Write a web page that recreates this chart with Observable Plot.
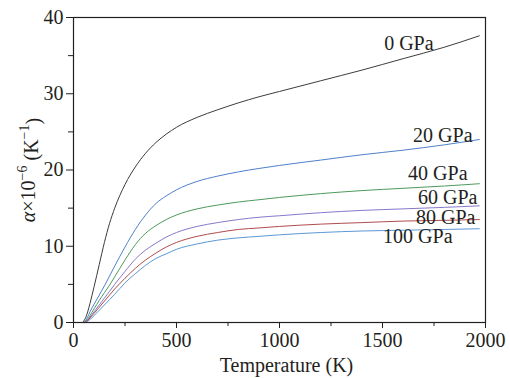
<!DOCTYPE html>
<html>
<head>
<meta charset="utf-8">
<script src="https://cdn.jsdelivr.net/npm/d3@7"></script>
<script src="https://cdn.jsdelivr.net/npm/@observablehq/plot@0.6"></script>
<style>
  html, body { margin: 0; padding: 0; background: #fff; font-family: "Liberation Serif"; }
</style>
</head>
<body>
<div id="chart"></div>
<script>
const T = [45,50,60,70,80,100,125,150,175,200,250,300,350,400,450,500,600,700,800,900,1000,1200,1400,1600,1800,1970];
const p0   = [0,0.2,0.7,1.5,2.5,4.7,7.6,10.5,13.0,15.0,18.1,20.4,22.2,23.6,24.7,25.6,26.9,27.9,28.8,29.6,30.3,31.7,33.1,34.6,36.1,37.6];
const p20  = [0,0,0.3,0.8,1.4,2.4,3.6,4.8,6.1,7.4,9.9,12.2,14.1,15.6,16.6,17.4,18.5,19.2,19.75,20.2,20.6,21.3,22.0,22.6,23.3,24.0];
const p40  = [0,0,0.2,0.5,0.9,1.8,2.9,3.9,4.9,6.0,8.2,10.2,11.7,12.7,13.5,14.1,14.9,15.4,15.8,16.1,16.4,16.9,17.3,17.6,17.9,18.2];
const p60  = [0,0,0.1,0.4,0.7,1.4,2.3,3.2,4.1,5.0,6.7,8.3,9.5,10.4,11.2,11.8,12.6,13.1,13.5,13.8,14.0,14.4,14.7,14.9,15.1,15.3];
const p80  = [0,0,0.1,0.3,0.6,1.2,2.0,2.8,3.6,4.4,5.8,7.1,8.2,9.1,9.9,10.5,11.3,11.8,12.2,12.4,12.6,12.9,13.1,13.3,13.4,13.5];
const p100 = [0,0,0,0.2,0.4,0.9,1.6,2.3,3.0,3.7,5.2,6.4,7.5,8.4,9.0,9.6,10.3,10.8,11.1,11.3,11.5,11.8,12.0,12.1,12.2,12.3];

const seriesNames = ["0 GPa","20 GPa","40 GPa","60 GPa","80 GPa","100 GPa"];
const seriesValues = [p0, p20, p40, p60, p80, p100];
const seriesColors = ["#3c3c3c","#4f7fcb","#4e9a5c","#8679cc","#b04c4c","#5b98d4"];
// label anchor (right end) in data coordinates
const labelT = [1748, 1937, 1913, 1961, 1951, 1840];
const labelA = [36.6, 24.5, 19.5, 16.4, 13.8, 11.3];

const xMajor = [0, 500, 1000, 1500, 2000];
const xMinor = [250, 750, 1250, 1750];
const yMajor = [0, 10, 20, 30, 40];
const yMinor = [5, 15, 25, 35];

const rows = [];
seriesNames.forEach((s, i) => T.forEach((t, j) => rows.push({s, t, a: seriesValues[i][j]})));
const labels = seriesNames.map((s, i) => ({s, t: labelT[i], a: labelA[i]}));

const font = "Liberation Serif";
const ink = "#231f20";

const svg = Plot.plot({
  width: 510,
  height: 378,
  marginLeft: 73,
  marginRight: 25,
  marginTop: 17,
  marginBottom: 56,
  style: "font-family: 'Liberation Serif'; font-size: 20px; background: #fff;",
  x: {domain: [0, 2000], label: null},
  y: {domain: [0, 40], label: null},
  color: {domain: seriesNames, range: seriesColors},
  marks: [
    Plot.axisX(xMinor, {tickSize: 4, text: null, label: null, stroke: ink}),
    Plot.axisX(xMajor, {tickSize: 6, tickPadding: 4, tickFormat: d3.format("d"), label: null, stroke: ink, fill: ink, fontFamily: font, fontSize: 20, fontVariant: "normal"}),
    Plot.axisY(yMinor, {tickSize: 5, text: null, label: null, stroke: ink}),
    Plot.axisY(yMajor, {tickSize: 7, tickPadding: 3, tickFormat: d3.format("d"), label: null, stroke: ink, fill: ink, fontFamily: font, fontSize: 20, fontVariant: "normal"}),
    Plot.line(rows, {x: "t", y: "a", z: "s", stroke: "s", strokeWidth: 1, curve: "monotone-x"}),
    Plot.text(labels, {x: "t", y: "a", text: "s", textAnchor: "end", fill: ink, fontSize: 20, fontFamily: font}),
    Plot.text(["Temperature (K)"], {frameAnchor: "bottom", dy: 49, dx: 7, fill: ink, fontSize: 20, fontFamily: font}),
    Plot.frame({stroke: ink, strokeWidth: 1.2})
  ]
});

svg.removeAttribute("font-family");
const s = d3.select(svg);
s.attr("font-family", font);
const lab = s.append("text")
  .attr("transform", "translate(30,170) rotate(-90)")
  .attr("text-anchor", "middle")
  .attr("dominant-baseline", "middle")
  .attr("fill", ink)
  .attr("font-family", font)
  .style("font-size", "20px");
lab.append("tspan").style("font-style", "italic").text("α");
lab.append("tspan").text("×10");
lab.append("tspan").attr("dy", "-0.45em").style("font-size", "14px").text("−6");
lab.append("tspan").attr("dy", "0.45em").text(" (K");
lab.append("tspan").attr("dy", "-0.45em").style("font-size", "14px").text("−1");
lab.append("tspan").attr("dy", "0.45em").text(")");

document.getElementById("chart").appendChild(svg);
</script>
</body>
</html>
